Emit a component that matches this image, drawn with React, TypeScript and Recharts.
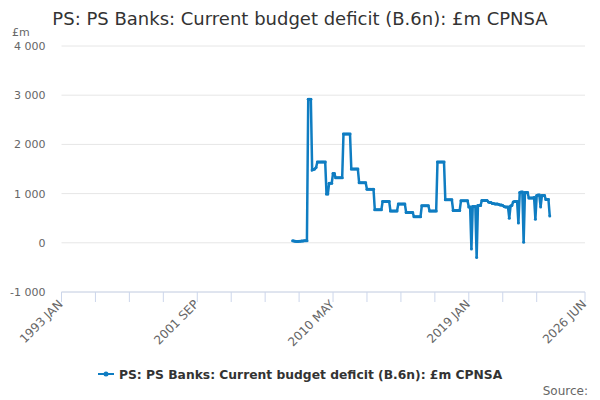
import { CartesianGrid, Line, LineChart, XAxis, YAxis } from 'recharts';

// x positions are months counted from 1993 JAN (0) to 2026 JUN (401)
const FIRST_MONTH = 177; // 2007 OCT
const AXIS_END = 401;

// £m, one value per month
const months2007to2010 = [
  40, 35, 30, 25, 25, 30, 30, 35, 35, 40, 40, 40,
  2920, 2920, 2920,
  1480, 1490, 1500, 1530,
  1640, 1640, 1640, 1640, 1640, 1640, 1640,
  990, 990,
  1210, 1210, 1210,
  1410, 1410,
  1320, 1320, 1320, 1320, 1320, 1320,
];

const months2011to2018 = [
  2210, 2210, 2210, 2210, 2210, 2210,
  1500, 1500, 1500, 1500, 1500, 1500,
  1220, 1220, 1220, 1220, 1220, 1220,
  1090, 1090, 1090, 1090, 1090, 1090,
  670, 670, 670, 670, 670, 670,
  840, 840, 840, 840, 840, 840,
  645, 645, 645, 645, 645, 645,
  790, 790, 790, 790, 790, 790,
  616, 616, 616, 616, 616, 616,
  530, 530, 530, 530, 530, 530,
  755, 755, 755, 755, 755, 755,
  645, 645, 645, 645, 645, 645,
  1640, 1640, 1640, 1640, 1640, 1640,
  874, 874, 874, 874, 874, 874,
  657, 657, 657, 657, 657, 657,
  853, 853, 853, 853, 853, 853,
];

const months2019to2024 = [
  730, 730, -125, 740, 740, 740, -300, 760, 760, 760, 860, 860,
  860, 860, 860, 830, 820, 820, 800, 800, 790, 790, 790, 780,
  770, 770, 760, 740, 730, 730, 730, 500, 750, 760, 830, 840,
  840, 840, 400, 1020, 1030, 1030, 10, 1020, 1020, 1020, 910, 910,
  910, 910, 920, 480, 960, 970, 970, 730, 960, 960, 960, 880,
  880, 880, 545,
];

const tickMonths = [0, 26, 52, 78, 104, 130, 156, 182, 208, 234, 260, 286, 312, 338, 364, 401];
const labelMonths = [0, 104, 208, 312, 401];
const labelTexts = ['1993 JAN', '2001 SEP', '2010 MAY', '2019 JAN', '2026 JUN'];
const yTicks = [-1000, 0, 1000, 2000, 3000, 4000];

const SERIES = 'PS: PS Banks: Current budget deficit (B.6n): £m CPNSA';
const BLUE = '#0f7dc2';
const FONT = '"DejaVu Sans", sans-serif';

const data = [...months2007to2010, ...months2011to2018, ...months2019to2024].map((v, i) => ({
  month: FIRST_MONTH + i,
  value: v,
}));

function fmt(v: number) {
  const s = Math.abs(v).toString().replace(/\B(?=(\d{3})+(?!\d))/g, ' ');
  return v < 0 ? `-${s}` : s;
}

function MonthTick({ x, y, payload }: any) {
  const idx = labelMonths.indexOf(payload.value);
  if (idx < 0) return <g />;
  return (
    <g transform={`translate(${x + 2},${y + 1}) rotate(-45)`}>
      <text x={0} y={0} textAnchor="end" fontSize={12} fill="#666" fontFamily={FONT}>
        {labelTexts[idx]}
      </text>
    </g>
  );
}

export default function App() {
  return (
    <div style={{ position: 'absolute', left: 0, top: 0, width: 600, height: 400, background: '#fff', fontFamily: FONT }}>
      <LineChart width={600} height={400} data={data} margin={{ top: 46, right: 15, bottom: 48, left: 0 }}>
        <CartesianGrid vertical={false} stroke="#e6e6e6" />
        <XAxis
          dataKey="month"
          type="number"
          domain={[0, AXIS_END]}
          ticks={tickMonths}
          interval={0}
          height={60}
          stroke="#ccd6eb"
          tickSize={10}
          tick={<MonthTick />}
        />
        <YAxis
          type="number"
          domain={[-1000, 4000]}
          ticks={yTicks}
          interval={0}
          width={61.5}
          axisLine={false}
          tickLine={false}
          tickSize={0}
          tickMargin={16}
          tickFormatter={fmt}
          tick={{ fontSize: 11, fill: '#666', fontFamily: FONT }}
        />
        <Line
          type="linear"
          dataKey="value"
          stroke={BLUE}
          strokeWidth={2.5}
          dot={{ r: 1.5, fill: BLUE, stroke: BLUE, strokeWidth: 0 }}
          activeDot={false}
          isAnimationActive={false}
        />
      </LineChart>
      <svg width={600} height={400} style={{ position: 'absolute', left: 0, top: 0, pointerEvents: 'none' }}>
        <text x={300} y={25} textAnchor="middle" fontSize={18} fill="#333" fontFamily={FONT}>
          {SERIES}
        </text>
        <text x={12} y={36} fontSize={11} fill="#666" fontFamily={FONT}>
          £m
        </text>
        <line x1={98} y1={374} x2={114} y2={374} stroke={BLUE} strokeWidth={2} />
        <circle cx={106} cy={374} r={2.5} fill={BLUE} />
        <text x={119} y={378.5} fontSize={12.3} fontWeight="bold" fill="#333" fontFamily={FONT}>
          {SERIES}
        </text>
        <text x={588} y={395} textAnchor="end" fontSize={12} fill="#666" fontFamily={FONT}>
          Source:
        </text>
      </svg>
    </div>
  );
}
